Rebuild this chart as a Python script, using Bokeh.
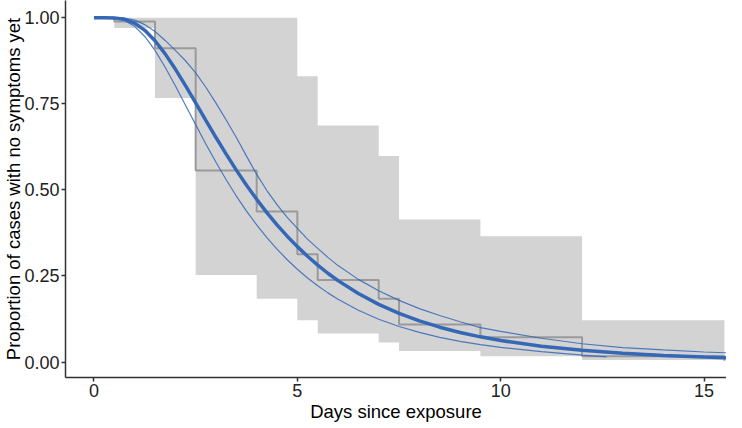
from bokeh.plotting import figure
from bokeh.models import FixedTicker, Range1d
from bokeh.embed import file_html
from bokeh.resources import INLINE

# Kaplan-Meier style step estimate with confidence band
km_time = [0, 0.5, 1.5, 2.5, 4, 5, 5.5, 7, 7.5, 9.5, 12, 15.5]
km_surv = [1.0, 0.989, 0.911, 0.556, 0.437, 0.313, 0.238, 0.184, 0.109, 0.072, 0.017, 0.004]
km_upper = [1.0, 1.0, 1.0, 1.0, 1.0, 0.83, 0.687, 0.598, 0.414, 0.365, 0.121, 0.121]
km_lower = [1.0, 0.97, 0.767, 0.253, 0.184, 0.121, 0.083, 0.057, 0.032, 0.017, 0.006, 0.006]

# fitted survival curve with its bounds
fit_days = [0, 0.25, 0.5, 0.75, 1.0, 1.25, 1.5, 1.75, 2.0, 2.25, 2.5, 2.75, 3.0, 3.25,
            3.5, 3.75, 4.0, 4.25, 4.5, 4.75, 5.0, 5.25, 5.5, 5.75, 6.0, 6.5, 7.0, 7.5,
            8.0, 8.5, 9.0, 9.5, 10, 11, 12, 13, 14, 15, 15.75]
fit_mid = [1.0, 1.0, 0.9994, 0.9955, 0.9842, 0.9634, 0.9332, 0.8949, 0.8508, 0.8026,
           0.7527, 0.7019, 0.6520, 0.6037, 0.5573, 0.5136, 0.4725, 0.4340, 0.3982,
           0.3654, 0.3351, 0.3071, 0.2813, 0.2578, 0.2364, 0.1988, 0.1673, 0.1412,
           0.1194, 0.1011, 0.0858, 0.0731, 0.0623, 0.0457, 0.0339, 0.0253, 0.0190,
           0.0145, 0.0118]
fit_hi = [1.0, 1.0, 1.0, 0.999, 0.993, 0.980, 0.960, 0.934, 0.905, 0.875, 0.840, 0.798,
          0.752, 0.703, 0.652, 0.598, 0.545, 0.498, 0.457, 0.420, 0.388, 0.357, 0.330,
          0.304, 0.280, 0.240, 0.207, 0.179, 0.155, 0.135, 0.117, 0.100, 0.089, 0.069,
          0.053, 0.042, 0.035, 0.029, 0.026]
fit_lo_days = [0, 0.25, 0.5, 0.75, 1.0, 1.25, 1.5, 1.75, 2.0, 2.25, 2.5, 2.75, 3.0, 3.25,
               3.5, 3.75, 4.0, 4.25, 4.5, 4.75, 5.0, 5.25, 5.5, 5.75, 6.0, 6.5, 7.0, 7.5,
               8.0, 8.5, 9.0, 9.5, 10, 11, 12, 12.6]
fit_lo = [1.0, 1.0, 0.9989, 0.9923, 0.975, 0.9455, 0.9053, 0.8563, 0.8026, 0.746, 0.6894,
          0.6334, 0.580, 0.5295, 0.482, 0.4384, 0.398, 0.3613, 0.328, 0.297, 0.2696,
          0.244, 0.2212, 0.2008, 0.1822, 0.1503, 0.1243, 0.1031, 0.086, 0.0716, 0.060,
          0.0503, 0.0423, 0.0303, 0.020, 0.015]

x_ticks = [0, 5, 10, 15]
y_ticks = [0, 0.25, 0.5, 0.75, 1.0]
y_tick_labels = ["0.00", "0.25", "0.50", "0.75", "1.00"]

FONT = "Liberation Sans"
BLUE = "#3567b7"

p = figure(width=726, height=424, output_backend="svg", toolbar_location=None,
           x_range=Range1d(-0.7, 15.55), y_range=Range1d(-0.045, 1.05),
           min_border_left=0, min_border_right=0, min_border_top=0, min_border_bottom=0)
p.outline_line_color = None
p.xgrid.visible = False
p.ygrid.visible = False
p.background_fill_color = "white"

# confidence band as steps
bx, blo, bhi = [], [], []
for i in range(len(km_time) - 1):
    bx += [km_time[i], km_time[i + 1]]
    blo += [km_lower[i], km_lower[i]]
    bhi += [km_upper[i], km_upper[i]]
p.varea(x=bx, y1=blo, y2=bhi, fill_color="#d3d3d3")

p.step(km_time, km_surv, mode="after", line_color="#9a9a9a", line_width=2)

p.line(fit_days, fit_hi, line_color=BLUE, line_width=1.2, line_alpha=0.85)
p.line(fit_lo_days, fit_lo, line_color=BLUE, line_width=1.2, line_alpha=0.85)
p.line(fit_days, fit_mid, line_color=BLUE, line_width=3.5)

for ax in (p.xaxis[0], p.yaxis[0]):
    ax.axis_line_color = "#333333"
    ax.axis_line_width = 1.5
    ax.major_tick_line_color = "#333333"
    ax.major_tick_line_width = 1.5
    ax.major_tick_in = 0
    ax.major_tick_out = 4
    ax.minor_tick_line_color = None
    ax.major_label_text_font = FONT
    ax.major_label_text_font_size = "18px"
    ax.major_label_text_color = "#222222"
    ax.axis_label_text_font = FONT
    ax.axis_label_text_font_size = "18.5px"
    ax.axis_label_text_font_style = "normal"
    ax.axis_label_text_color = "black"
    ax.major_label_standoff = 2

p.xaxis.axis_label_standoff = 1
p.yaxis.axis_label_standoff = -3
p.xaxis.ticker = FixedTicker(ticks=x_ticks)
p.yaxis.ticker = FixedTicker(ticks=y_ticks)
p.yaxis.major_label_overrides = {t: l for t, l in zip(y_ticks, y_tick_labels)}
p.xaxis.axis_label = "Days since exposure"
p.yaxis.axis_label = "Proportion of cases with no symptoms yet"

open("out.html", "w").write(file_html(p, INLINE))
